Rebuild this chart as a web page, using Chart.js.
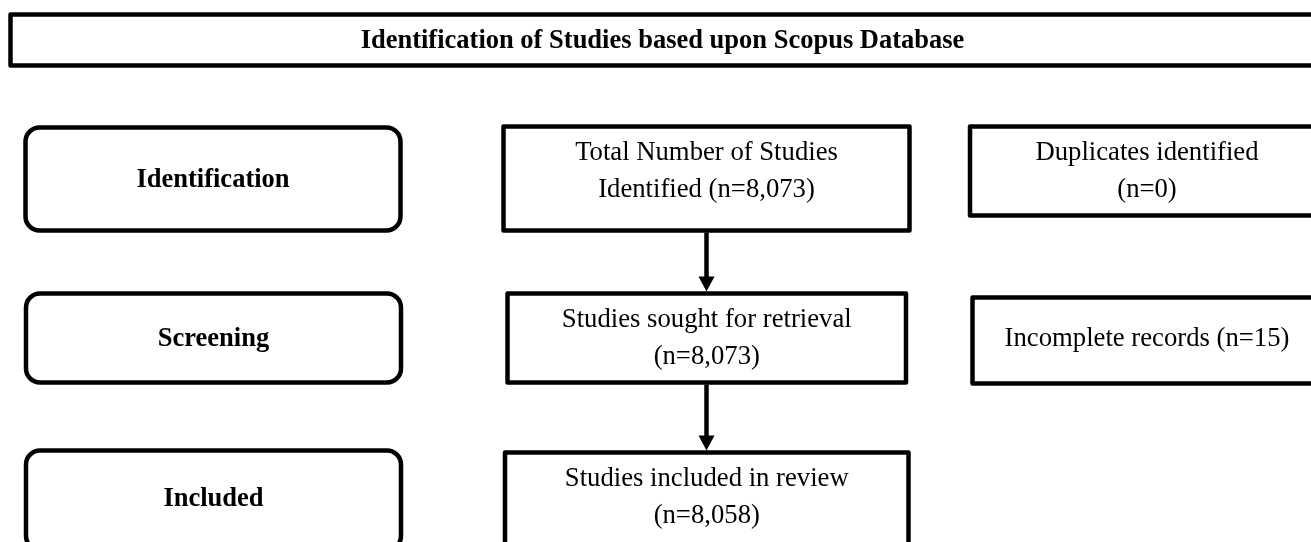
<!DOCTYPE html>
<html>
<head>
<meta charset="utf-8">
<script src="https://cdn.jsdelivr.net/npm/chart.js@4/dist/chart.umd.min.js"></script>
<style>
  html, body { margin: 0; padding: 0; background: #fff; }
  canvas { display: block; }
</style>
</head>
<body>
<canvas id="flow" width="1311" height="542"></canvas>
<script>
// データ
const title = 'Identification of Studies based upon Scopus Database';
const stages = ['Identification', 'Screening', 'Included'];
const flowLabels = ['Total Number of Studies\nIdentified ', 'Studies sought for retrieval\n', 'Studies included in review\n'];
const flowCounts = [8073, 8073, 8058];
const sideLabels = ['Duplicates identified\n', 'Incomplete records '];
const sideCounts = [0, 15];

// レイアウト (座標はスケールの値として扱う)
const titleBox = { x0: 10.5, y0: 14.5, x1: 1318, y1: 65.5 };
const stageBoxes = [
  { x0: 25.5, y0: 127.5, x1: 400.5, y1: 230.5 },
  { x0: 26, y0: 293.5, x1: 401, y1: 382.5 },
  { x0: 26, y0: 450.5, x1: 401, y1: 550 },
];
const flowBoxes = [
  { x0: 503.5, y0: 126.5, x1: 909.5, y1: 230.5, ty: 171.5 },
  { x0: 507.5, y0: 293.5, x1: 906, y1: 382.5, ty: 338.5 },
  { x0: 505, y0: 452.5, x1: 908.5, y1: 552, ty: 497 },
];
const sideBoxes = [
  { x0: 970, y0: 126.5, x1: 1325, y1: 215.5, ty: 171.5 },
  { x0: 972.5, y0: 297.5, x1: 1325, y1: 383.5, ty: 339 },
];
const arrowX = 706.5;

const serif = "'Liberation Serif', 'Times New Roman', serif";

const fmt = (n) => `(n=${n.toLocaleString('en-US')})`;

const flowPlugin = {
  id: 'flowPlugin',
  afterDraw: (chart) => {
    const { ctx, scales: { x, y } } = chart;
    const px = (v) => x.getPixelForValue(v);
    const py = (v) => y.getPixelForValue(v);

    ctx.save();
    ctx.strokeStyle = '#000';
    ctx.fillStyle = '#000';
    ctx.lineWidth = 4.5;
    ctx.lineJoin = 'round';
    ctx.textAlign = 'center';
    ctx.textBaseline = 'middle';

    const rect = (b, r) => {
      ctx.beginPath();
      if (r) {
        ctx.roundRect(px(b.x0), py(b.y0), px(b.x1) - px(b.x0), py(b.y1) - py(b.y0), r);
      } else {
        ctx.rect(px(b.x0), py(b.y0), px(b.x1) - px(b.x0), py(b.y1) - py(b.y0));
      }
      ctx.stroke();
    };

    const lines = (text, cx, cy, lh) => {
      const parts = text.split('\n').filter((s) => s.trim() !== '');
      const start = cy - ((parts.length - 1) * lh) / 2;
      parts.forEach((p, i) => ctx.fillText(p.trim(), px(cx), py(start + i * lh)));
    };

    // タイトル
    rect(titleBox);
    ctx.font = `bold 26.5px ${serif}`;
    ctx.fillText(title, px(662.5), py((titleBox.y0 + titleBox.y1) / 2 + 1));

    // 段階ラベル
    ctx.font = `bold 26.5px ${serif}`;
    stages.forEach((s, i) => {
      const b = stageBoxes[i];
      rect(b, 14);
      const cy = i === 2 ? 499 : (b.y0 + b.y1) / 2 + 1;
      ctx.fillText(s, px((b.x0 + b.x1) / 2), py(cy));
    });

    // 中央のボックス
    ctx.font = `26.7px ${serif}`;
    flowLabels.forEach((l, i) => {
      const b = flowBoxes[i];
      rect(b);
      lines(l + fmt(flowCounts[i]), (b.x0 + b.x1) / 2, b.ty, 37);
    });

    // 右側のボックス
    sideLabels.forEach((l, i) => {
      const b = sideBoxes[i];
      rect(b);
      lines(l + fmt(sideCounts[i]), 1147, b.ty, 37);
    });

    // 矢印
    const arrow = (from, to) => {
      ctx.beginPath();
      ctx.lineWidth = 4.5;
      ctx.moveTo(px(arrowX), py(from));
      ctx.lineTo(px(arrowX), py(to - 12));
      ctx.stroke();
      ctx.beginPath();
      ctx.moveTo(px(arrowX - 8), py(to - 15));
      ctx.lineTo(px(arrowX + 8), py(to - 15));
      ctx.lineTo(px(arrowX), py(to));
      ctx.closePath();
      ctx.fill();
    };
    arrow(flowBoxes[0].y1 + 2, flowBoxes[1].y0 - 2);
    arrow(flowBoxes[1].y1 + 2, flowBoxes[2].y0 - 2);

    ctx.restore();
  },
};

new Chart(document.getElementById('flow').getContext('2d'), {
  type: 'scatter',
  data: { datasets: [{ data: [], pointRadius: 0 }] },
  options: {
    responsive: false,
    animation: false,
    layout: { padding: 0 },
    scales: {
      x: { type: 'linear', min: 0, max: 1311, display: false },
      y: { type: 'linear', min: 0, max: 542, reverse: true, display: false },
    },
    plugins: {
      legend: { display: false },
      tooltip: { enabled: false },
    },
  },
  plugins: [flowPlugin],
});
</script>
</body>
</html>
